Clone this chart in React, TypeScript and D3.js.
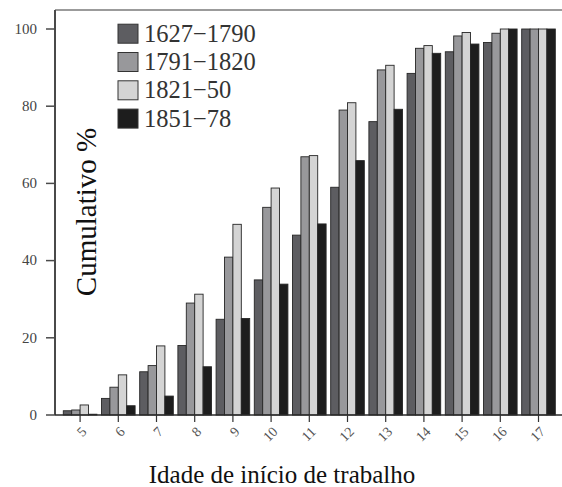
import React from "react";
import { scaleBand, scaleLinear } from "d3";

const ages = ["5", "6", "7", "8", "9", "10", "11", "12", "13", "14", "15", "16", "17"];
const seriesNames = ["1627\u22121790", "1791\u22121820", "1821\u221250", "1851\u221278"];
const s1627 = [1.1, 4.3, 11.2, 18, 24.8, 35, 46.6, 59, 76, 88.5, 94.1, 96.5, 100];
const s1791 = [1.3, 7.2, 12.8, 29, 40.9, 53.8, 66.9, 79, 89.4, 95, 98.2, 98.9, 100];
const s1821 = [2.6, 10.4, 17.9, 31.3, 49.4, 58.8, 67.2, 80.9, 90.6, 95.7, 99.1, 100, 100];
const s1851 = [0.2, 2.4, 4.9, 12.5, 25, 33.9, 49.5, 65.9, 79.2, 93.7, 96.1, 100, 100];
const yTicks = [0, 20, 40, 60, 80, 100];
const colors = ["#5d5d61", "#98989b", "#d4d4d4", "#1d1d1d"];

export default function App() {
  const width = 562;
  const height = 487;
  const series = [s1627, s1791, s1821, s1851];

  const axisX = 55;
  const top = 10;
  const yScale = scaleLinear().domain([0, 100]).range([415, 29]);

  const x0 = scaleBand()
    .domain(ages)
    .range([61, 557.6])
    .paddingInner(0.12)
    .paddingOuter(0.06);
  const x1 = scaleBand()
    .domain(seriesNames)
    .range([0, x0.bandwidth()]);

  const serif = "'Liberation Serif', 'Times New Roman', serif";

  return (
    <svg
      width={width}
      height={height}
      style={{ position: "absolute", left: 0, top: 0, background: "#fff" }}
    >
      {/* bars */}
      {ages.map((a, i) => (
        <g key={a} transform={`translate(${x0(a)},0)`}>
          {series.map((s, j) => (
            <rect
              key={j}
              x={x1(seriesNames[j])}
              y={yScale(s[i])}
              width={x1.bandwidth()}
              height={yScale(0) - yScale(s[i])}
              fill={colors[j]}
              stroke="#262626"
              strokeWidth={0.9}
            />
          ))}
        </g>
      ))}

      {/* frame */}
      <line x1={axisX} x2={width} y1={top} y2={top} stroke="#7a7a7a" strokeWidth={1.5} />
      <line x1={axisX} x2={axisX} y1={top} y2={yScale(0)} stroke="#4a4a4a" strokeWidth={2} />
      <line x1={axisX} x2={width} y1={yScale(0)} y2={yScale(0)} stroke="#2a2a2a" strokeWidth={1.5} />

      {/* y axis */}
      {yTicks.map((t) => (
        <g key={t} transform={`translate(0,${yScale(t)})`}>
          <line x1={46} x2={axisX} stroke="#4a4a4a" strokeWidth={1.5} />
          <text
            x={37}
            dy="0.32em"
            textAnchor="end"
            fontFamily={serif}
            fontSize={15}
            fill="#444"
          >
            {t}
          </text>
        </g>
      ))}

      {/* x axis */}
      {ages.map((a) => {
        const cx = (x0(a) as number) + x0.bandwidth() / 2;
        return (
          <g key={a}>
            <line x1={cx} x2={cx} y1={yScale(0)} y2={yScale(0) + 7} stroke="#333" strokeWidth={1.2} />
            <text
              transform={`translate(${cx + 4},${yScale(0) + 14}) rotate(-45)`}
              textAnchor="end"
              dy="0.35em"
              fontFamily={serif}
              fontSize={14}
              fill="#555"
            >
              {a}
            </text>
          </g>
        );
      })}

      {/* axis titles */}
      <text
        transform={`translate(96,212) rotate(-90)`}
        textAnchor="middle"
        fontFamily={serif}
        fontSize={29}
        fill="#111"
      >
        Cumulativo %
      </text>
      <text
        x={282}
        y={483}
        textAnchor="middle"
        fontFamily={serif}
        fontSize={25}
        fill="#111"
      >
        Idade de início de trabalho
      </text>

      {/* legend */}
      {seriesNames.map((n, j) => {
        const base = 41.7 + j * 28.3;
        return (
          <g key={n}>
            <rect
              x={118}
              y={base - 17.5}
              width={20}
              height={19}
              fill={colors[j]}
              stroke="#333"
              strokeWidth={1}
            />
            <text x={144} y={base} fontFamily={serif} fontSize={24.5} fill="#333">
              {n}
            </text>
          </g>
        );
      })}
    </svg>
  );
}
